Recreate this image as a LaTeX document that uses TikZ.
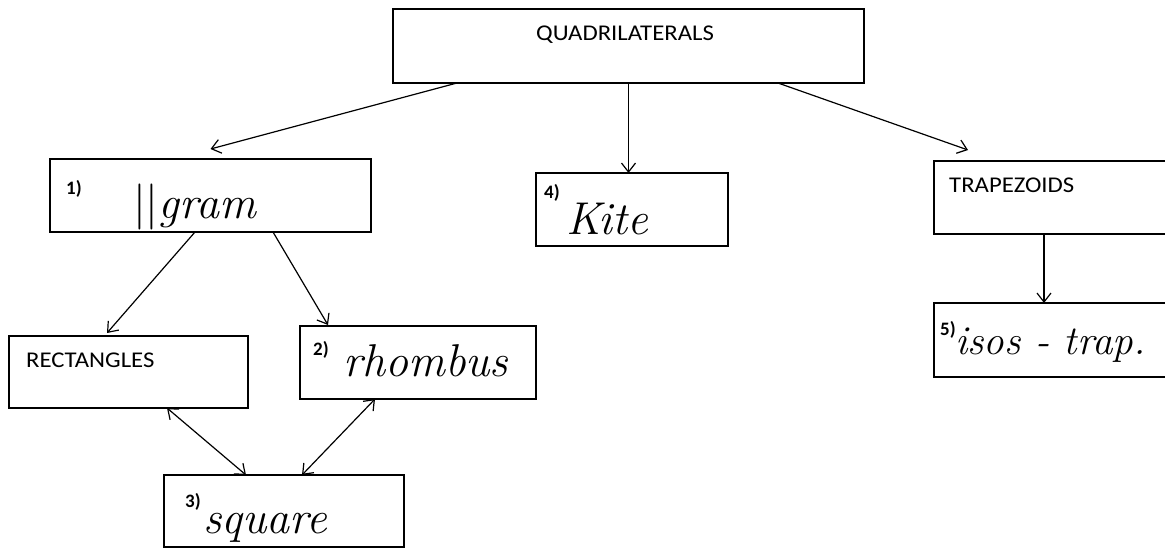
\documentclass[tikz,border=0pt]{standalone}
\usepackage{fontspec}
\usetikzlibrary{arrows.meta}
\newfontfamily\calibfont[FakeStretch=1.1]{Carlito}
\newfontfamily\numfont{Carlito}
\tikzset{
  box/.style={draw=black, line width=1.6pt, rectangle, inner sep=0pt, outer sep=0pt},
  typed/.style={inner sep=0pt, anchor=base west, font=\calibfont\fontsize{22.5}{25}\selectfont},
  num/.style={inner sep=0pt, anchor=base west, font=\numfont\bfseries\fontsize{19}{21}\selectfont},
  hand/.style={inner sep=0pt, anchor=base west, font=\itshape\fontsize{46}{50}\selectfont},
  conn/.style={line width=1.2pt, -{Straight Barb[length=9pt,width=14pt,line width=1.2pt]}},
  biconn/.style={line width=1.2pt, {Straight Barb[length=9pt,width=14pt,line width=1.2pt]}-{Straight Barb[length=9pt,width=14pt,line width=1.2pt]}}
}
\begin{document}
\begin{tikzpicture}[x=1pt,y=-1pt]
\useasboundingbox (0,0) rectangle (1165,552);
\fill[white] (0,0) rectangle (1165,552);
\clip (0,0) rectangle (1165,552);

% boxes
\node[box, minimum width=471pt, minimum height=74pt] (quad)   at (628.5,46) {};
\node[box, minimum width=321pt, minimum height=73pt] (gram)   at (210.5,195.5) {};
\node[box, minimum width=192pt, minimum height=73pt] (kite)   at (632,209.5) {};
\node[box, minimum width=316pt, minimum height=73pt] (trap)   at (1092,197.5) {};
\node[box, minimum width=316pt, minimum height=74pt] (iso)    at (1092,340) {};
\node[box, minimum width=239pt, minimum height=72pt] (rect)   at (128.5,372) {};
\node[box, minimum width=236pt, minimum height=73pt] (rhomb)  at (418,362.5) {};
\node[box, minimum width=240pt, minimum height=72pt] (square) at (284,511) {};

% typed texts
\node[typed] (tquad)  at (536,40)  {QUADRILATERALS};
\node[typed] (trect)  at (26,367)  {RECTANGLES};
\node[typed] (ttrap)  at (949,192) {TRAPEZOIDS};

% numbers
\node[num] (n1) at (66,194)  {1)};
\node[num] (n2) at (313,355) {2)};
\node[num] (n3) at (185,507) {3)};
\node[num] (n4) at (544,198) {4)};
\node[num] (n5) at (940,335) {5)};

% handwritten answers
\node[hand] (hgram)   at (133,218) {{\upshape||}gram};
\node[hand] (hkite)   at (566,234) {Kite};
\node[hand] (hrhomb)  at (343,376) {rhombus};
\node[hand] (hsquare) at (203,533) {square};
\node[hand, font=\itshape\fontsize{41}{45}\selectfont] (hiso) at (955,354) {isos - trap.};

% connectors
\draw[conn] ([xshift=-171.5pt]quad.south) -- ([yshift=10pt]gram.north);
\draw[conn] (quad.south) -- (quad.south |- kite.north);
\draw[conn] ([xshift=149.5pt]quad.south) -- ([shift={(34pt,11pt)}]trap.north west);
\draw[conn] ([xshift=110pt]trap.south west) -- ([xshift=110pt]iso.north west);
\draw[conn] ([xshift=-15.5pt]gram.south) -- ([shift={(98pt,3pt)}]rect.north west);
\draw[conn] ([xshift=62.5pt]gram.south) -- ([shift={(28pt,1pt)}]rhomb.north west);
\draw[biconn] ([xshift=158pt]rect.south west) -- ([xshift=82pt]square.north west);
\draw[biconn] ([xshift=75pt]rhomb.south west) -- ([xshift=138pt]square.north west);
\end{tikzpicture}
\end{document}
